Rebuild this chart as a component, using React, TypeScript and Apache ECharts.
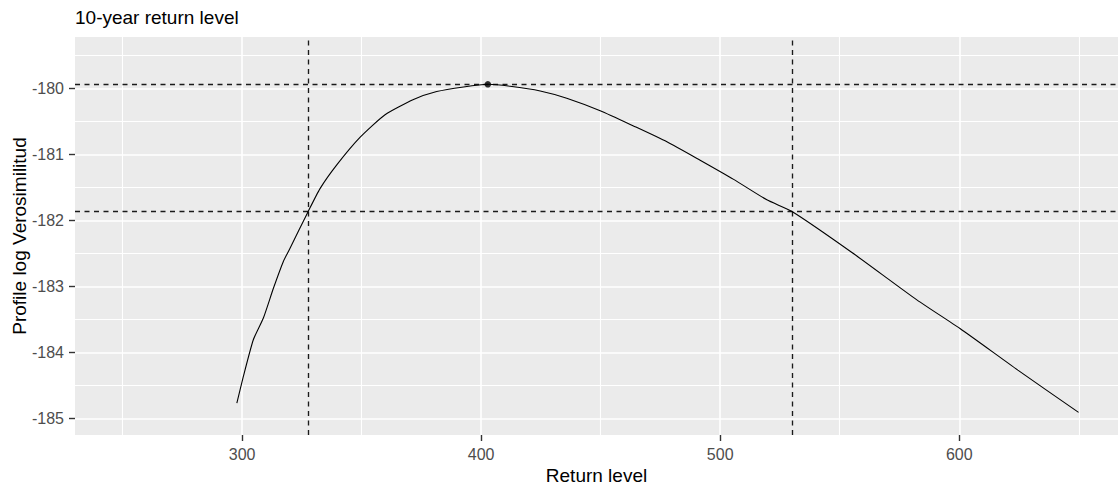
import React, { useEffect, useRef } from "react";
import * as echarts from "echarts";

// Profile log-likelihood of the 10-year return level
const returnLevels = [
  297.8, 300.5, 304.7, 308.9, 313.1, 317.3, 320.1, 327.6, 332.6, 339.6,
  349.4, 359.8, 371.7, 381.4, 392.6, 402.8, 412.1, 424.7, 435.8, 449.8,
  463.7, 477.7, 491.6, 505.6, 519.5, 530.2, 554.8, 582.4, 600.3, 624.5, 649.9,
];
const profileLogLik = [
  -184.77, -184.37, -183.81, -183.48, -183.03, -182.62, -182.42, -181.87, -181.52, -181.16,
  -180.74, -180.4, -180.17, -180.05, -179.98, -179.94, -179.97, -180.04, -180.15, -180.34,
  -180.57, -180.81, -181.09, -181.38, -181.69, -181.87, -182.48, -183.21, -183.64, -184.27, -184.91,
];

// Maximum-likelihood estimate and the confidence interval bounds
const mleLevel = 402.8;
const maxLogLik = -179.94;
const ciBounds = [327.6, 530.2];
const ciCutoff = -181.87;

// Axis ticks and grid lines
const xTicks = [300, 400, 500, 600];
const xMinor = [250, 350, 450, 550, 650];
const yTicks = [-185, -184, -183, -182, -181, -180];
const yMinor = [-184.5, -183.5, -182.5, -181.5, -180.5, -179.5];

const FONT = "'Liberation Sans', Arial, sans-serif";

const curve = returnLevels.map((x, i) => [x, profileLogLik[i]]);

const gridLines = (values: number[], key: "xAxis" | "yAxis", width: number) => ({
  type: "line",
  data: curve,
  symbol: "none",
  silent: true,
  z: 1,
  lineStyle: { opacity: 0, width: 0 },
  markLine: {
    z: 1,
    silent: true,
    symbol: ["none", "none"],
    label: { show: false },
    emphasis: { disabled: true },
    lineStyle: { color: "#FFFFFF", width, type: "solid" },
    data: values.map((v) => ({ [key]: v })),
  },
});

export default function App() {
  const ref = useRef<HTMLDivElement>(null);

  useEffect(() => {
    const chart = echarts.init(ref.current!, null, { renderer: "svg" });
    chart.setOption({
      animation: false,
      title: {
        text: "10-year return level",
        left: 75,
        top: 8,
        padding: 0,
        textStyle: { fontFamily: FONT, fontSize: 19, fontWeight: "normal", color: "#000" },
      },
      grid: {
        left: 75,
        right: 0,
        top: 37,
        bottom: 51,
        show: true,
        backgroundColor: "#EBEBEB",
        borderWidth: 0,
        containLabel: false,
        outerBoundsMode: "none",
      },
      xAxis: {
        type: "value",
        min: 230.1,
        max: 666.4,
        name: "Return level",
        nameLocation: "middle",
        nameGap: 31,
        nameMoveOverlap: false,
        nameTextStyle: { fontFamily: FONT, fontSize: 19, color: "#000" },
        axisLine: { show: false },
        axisTick: {
          show: true,
          customValues: xTicks,
          length: 6,
          lineStyle: { color: "#333333", width: 1.4 },
        },
        axisLabel: {
          customValues: xTicks,
          margin: 11,
          fontFamily: FONT,
          fontSize: 16,
          color: "#4D4D4D",
        },
        splitLine: { show: false },
      },
      yAxis: {
        type: "value",
        min: -185.253,
        max: -179.223,
        name: "Profile log Verosimilitud",
        nameLocation: "middle",
        nameGap: 46,
        nameRotate: 90,
        nameMoveOverlap: false,
        nameTextStyle: { fontFamily: FONT, fontSize: 19, color: "#000" },
        axisLine: { show: false },
        axisTick: {
          show: true,
          customValues: yTicks,
          length: 6,
          lineStyle: { color: "#333333", width: 1.4 },
        },
        axisLabel: {
          customValues: yTicks,
          margin: 11,
          fontFamily: FONT,
          fontSize: 16,
          color: "#4D4D4D",
        },
        splitLine: { show: false },
      },
      series: [
        gridLines(xMinor, "xAxis", 1.1),
        gridLines(yMinor, "yAxis", 1.1),
        gridLines(xTicks, "xAxis", 1.6),
        gridLines(yTicks, "yAxis", 1.6),
        {
          type: "line",
          data: curve,
          symbol: "none",
          silent: true,
          z: 2,
          lineStyle: { opacity: 0, width: 0 },
          markLine: {
            z: 2,
            silent: true,
            symbol: ["none", "none"],
            label: { show: false },
            emphasis: { disabled: true },
            lineStyle: { color: "#1a1a1a", width: 1.35, type: [5, 4.5] },
            data: [
              { yAxis: maxLogLik },
              { yAxis: ciCutoff },
              { xAxis: ciBounds[0] },
              { xAxis: ciBounds[1] },
            ],
          },
        },
        {
          type: "line",
          data: curve,
          symbol: "none",
          smooth: 0.2,
          silent: true,
          z: 3,
          lineStyle: { color: "#000", width: 1.1 },
        },
        {
          type: "scatter",
          data: [[mleLevel, maxLogLik]],
          symbolSize: 6.5,
          silent: true,
          z: 4,
          itemStyle: { color: "#000" },
        },
      ],
    });
    return () => chart.dispose();
  }, []);

  return (
    <div
      ref={ref}
      style={{ position: "fixed", left: 0, top: 0, width: 1118, height: 486, background: "#fff" }}
    />
  );
}
